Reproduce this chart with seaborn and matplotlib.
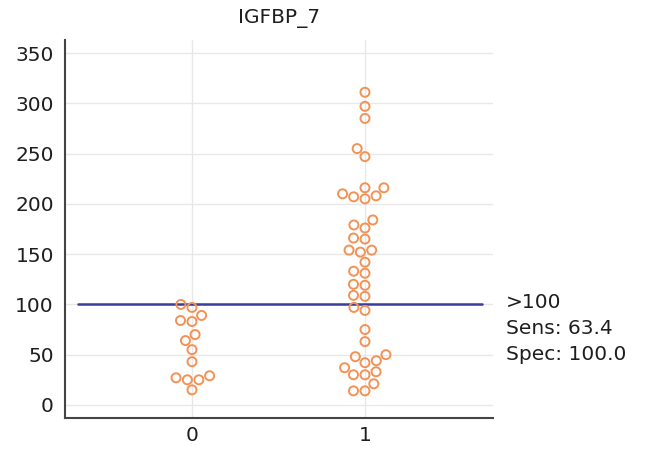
import matplotlib
matplotlib.use("Agg")
import matplotlib.pyplot as plt
import seaborn as sns
import pandas as pd

title = "IGFBP_7"
categories = ["0", "1"]
group0_values = [97, 100, 83, 84, 89, 64, 70, 55, 43, 25, 25, 27, 29, 15]
group1_values = [311, 297, 285, 255, 247, 216, 216, 205, 207, 208, 210,
                 184, 176, 179, 165, 166, 152, 154, 154, 142, 131, 133,
                 119, 120, 108, 109, 94, 97, 75, 63, 50, 48, 44, 42, 37,
                 30, 30, 33, 21, 14, 14]
cutoff = 100
annotation_lines = [">100", "Sens: 63.4", "Spec: 100.0"]
yticks = [0, 50, 100, 150, 200, 250, 300, 350]

df = pd.DataFrame({
    "group": ["0"] * len(group0_values) + ["1"] * len(group1_values),
    "value": group0_values + group1_values,
})

sns.set_theme(style="white")
plt.rcParams["font.family"] = ["DejaVu Sans"]

FS = 14.5
TXT = "#1e1e1e"

fig = plt.figure(figsize=(6.51, 4.5), dpi=100)
ax = fig.add_axes([65 / 651, 32 / 450, 428 / 651, 378 / 450])

orange = "#F39256"
sns.swarmplot(data=df, x="group", y="value", order=categories, ax=ax,
              color=orange, size=6.5, linewidth=1.4, edgecolor=orange,
              zorder=3)
for coll in ax.collections:
    coll.set_facecolor("none")
    coll.set_edgecolor(orange)
    coll.set_linewidth(1.4)

xmin, xmax = -0.734, 1.74
ax.set_xlim(xmin, xmax)
ax.set_ylim(-13, 363)
ax.set_yticks(yticks)

# cutoff line spans most of the axes width (as in the reference)
ax.axhline(cutoff, xmin=0.03, xmax=0.975, color="#3A3C9E", lw=1.8, zorder=2)

for y in yticks:
    ax.axhline(y, color="#e8e8e8", lw=1.0, zorder=0)
for x in range(len(categories)):
    ax.axvline(x, color="#e8e8e8", lw=1.0, zorder=0)

for s in ["top", "right"]:
    ax.spines[s].set_visible(False)
for s in ["left", "bottom"]:
    ax.spines[s].set_color("#444444")
    ax.spines[s].set_linewidth(1.5)

ax.tick_params(axis="both", direction="in", length=8, width=1.3,
               color="#444444", labelsize=FS, labelcolor=TXT)
ax.tick_params(axis="y", pad=8)
ax.tick_params(axis="x", pad=6)
ax.set_xlabel("")
ax.set_ylabel("")
ax.set_title(title, fontsize=FS, color=TXT, pad=12)

baselines = [308, 334, 360]
for txt, yp in zip(annotation_lines, baselines):
    fig.text(506 / 651, 1 - yp / 450, txt, fontsize=FS, color=TXT,
             va="baseline", ha="left")

fig.savefig("out.png", dpi=100)
